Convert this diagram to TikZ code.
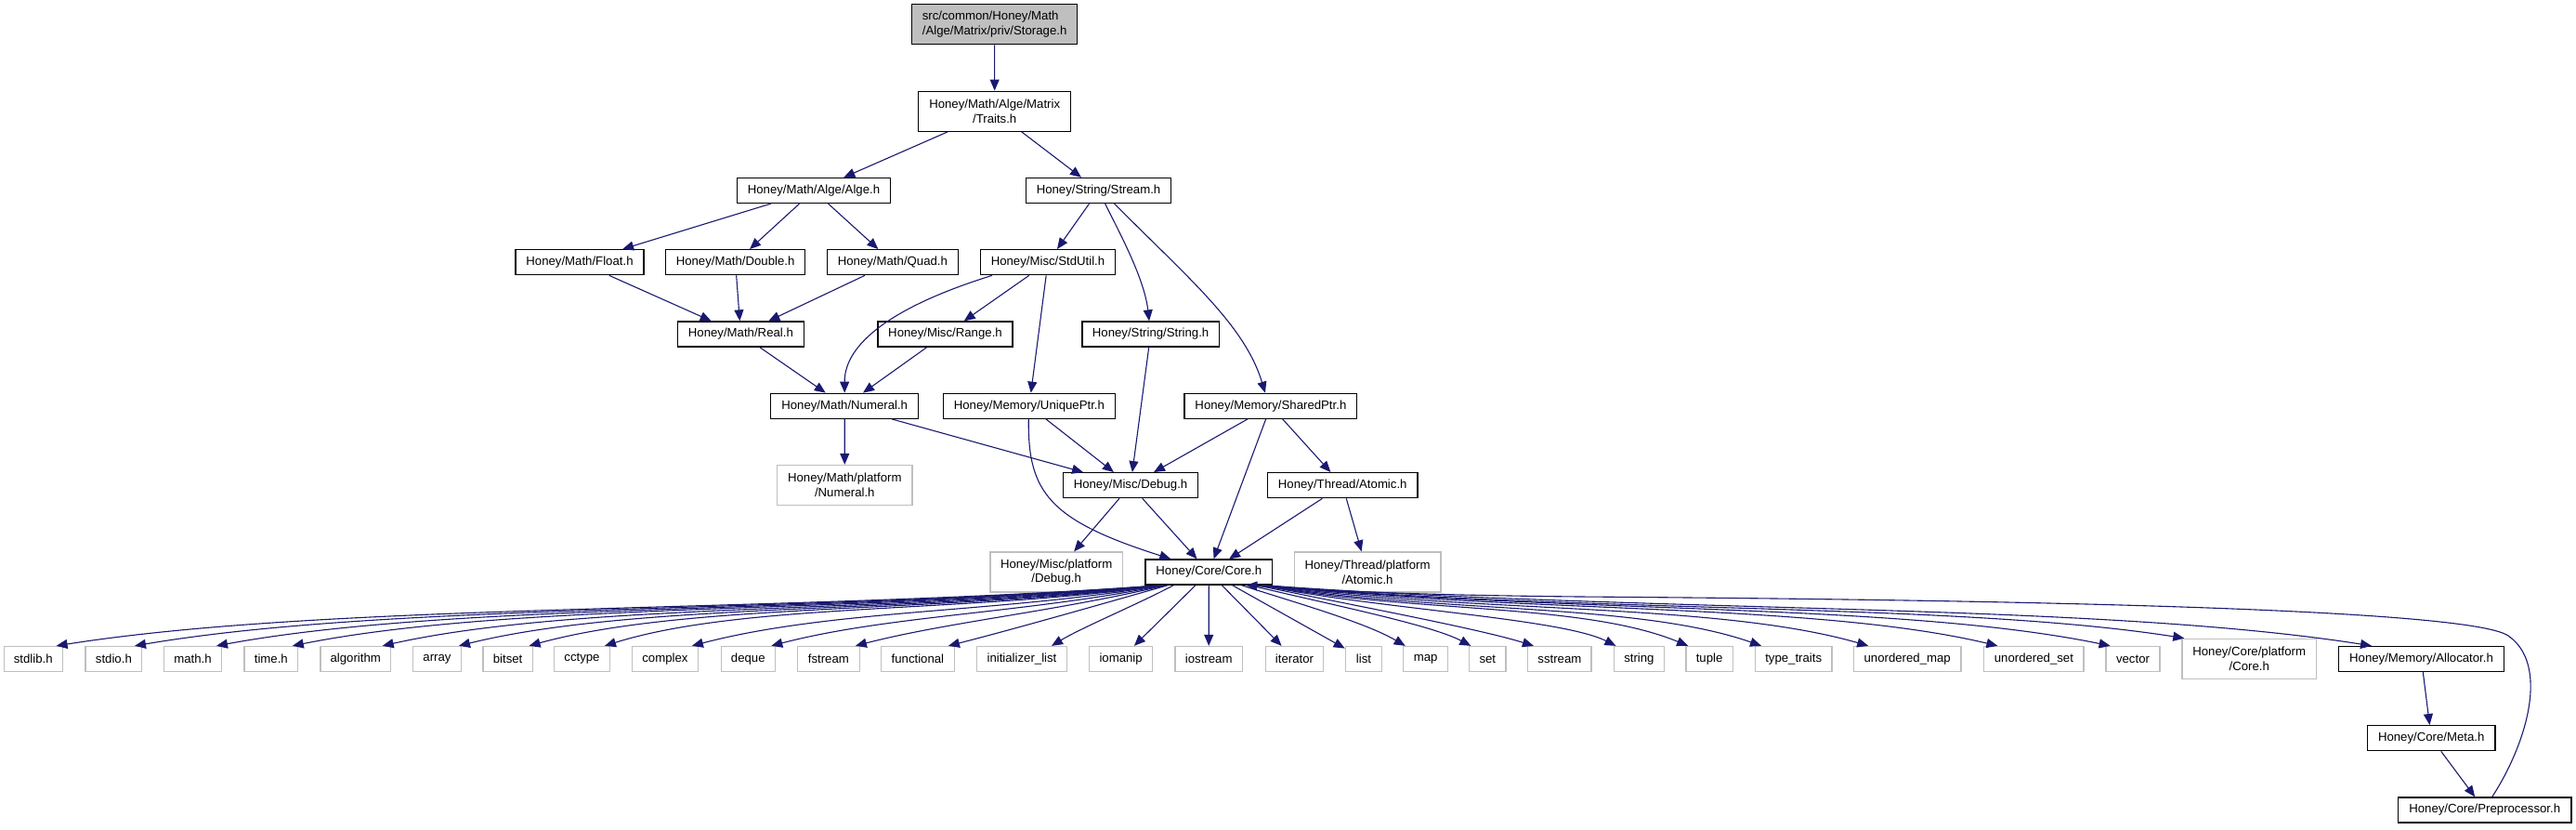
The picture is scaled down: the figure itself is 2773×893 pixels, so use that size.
\documentclass[tikz,border=0pt]{standalone}
\usepackage{fontspec}
\setmainfont{Liberation Sans}
\usetikzlibrary{arrows.meta}
\definecolor{edgeblue}{HTML}{191970}
\definecolor{extgray}{HTML}{BFBFBF}
\begin{document}
\begin{tikzpicture}[x=1pt,y=-1pt,
  every node/.style={font=\fontsize{13.2}{15.8}\selectfont},
  box/.style={draw=black, line width=1.3pt, fill=white, inner sep=0pt, minimum height=27pt, align=center},
  two/.style={minimum height=43pt},
  ext/.style={box, draw=extgray},
  root/.style={box, fill=extgray, align=left},
  dep/.style={draw=edgeblue, line width=1.1pt, -{Triangle[length=12pt,width=10pt]}}
]
\fill[white] (0,0) rectangle (2773,893);
\useasboundingbox (0,0) rectangle (2773,893);

% upper part
\node[root, two, minimum width=178pt] (storage) at (1070.6,26.3) {src/common/Honey/Math\\/Alge/Matrix/priv/Storage.h};
\node[box, two, minimum width=164pt] (traits) at (1070.7,119.7) {Honey/Math/Alge/Matrix\\/Traits.h};
\node[box, minimum width=165.4pt] (alge) at (876,205) {Honey/Math/Alge/Alge.h};
\node[box, minimum width=156pt] (stream) at (1182.5,205) {Honey/String/Stream.h};
\node[box, minimum width=137.8pt] (float) at (624,282.2) {Honey/Math/Float.h};
\node[box, minimum width=150.4pt] (double) at (791.6,282.2) {Honey/Math/Double.h};
\node[box, minimum width=141.2pt] (quad) at (960.9,282.2) {Honey/Math/Quad.h};
\node[box, minimum width=144.6pt] (stdutil) at (1128,282.2) {Honey/Misc/StdUtil.h};
\node[box, minimum width=135.5pt] (real) at (797.4,359.5) {Honey/Math/Real.h};
\node[box, minimum width=145.2pt] (range) at (1017.5,359.5) {Honey/Misc/Range.h};
\node[box, minimum width=147.5pt] (string) at (1238.6,359.5) {Honey/String/String.h};
\node[box, minimum width=159pt] (numeral) at (909.2,436.8) {Honey/Math/Numeral.h};
\node[box, minimum width=184.8pt] (unique) at (1107.9,436.8) {Honey/Memory/UniquePtr.h};
\node[box, minimum width=185.7pt] (shared) at (1367.9,436.8) {Honey/Memory/SharedPtr.h};
\node[ext, two, minimum width=145.3pt] (mnumeral) at (909.3,522) {Honey/Math/platform\\/Numeral.h};
\node[box, minimum width=145.4pt] (debug) at (1217,522.2) {Honey/Misc/Debug.h};
\node[box, minimum width=161.7pt] (atomic) at (1445.2,522.2) {Honey/Thread/Atomic.h};
\node[ext, two, minimum width=142.4pt] (mdebug) at (1137.2,615.5) {Honey/Misc/platform\\/Debug.h};
\node[box, minimum width=136.4pt] (core) at (1301.3,615.5) {Honey/Core/Core.h};
\node[ext, two, minimum width=157.7pt] (tatomic) at (1472,615.5) {Honey/Thread/platform\\/Atomic.h};

% bottom row
\node[ext, minimum width=63.1pt] (stdlibh) at (35.8,709) {stdlib.h};
\node[ext, minimum width=60.6pt] (stdioh) at (122.4,709) {stdio.h};
\node[ext, minimum width=62.4pt] (mathh) at (207.5,709) {math.h};
\node[ext, minimum width=57.5pt] (timeh) at (291.8,709) {time.h};
\node[ext, minimum width=75.7pt] (algorithm) at (382.7,709) {algorithm};
\node[ext, minimum width=51.5pt] (array) at (470.5,709) {array};
\node[ext, minimum width=53.3pt] (bitset) at (546.6,709) {bitset};
\node[ext, minimum width=59.4pt] (cctype) at (626.5,709) {cctype};
\node[ext, minimum width=70.9pt] (complex) at (715.9,709) {complex};
\node[ext, minimum width=58.1pt] (deque) at (805.3,709) {deque};
\node[ext, minimum width=66.6pt] (fstream) at (891.9,709) {fstream};
\node[ext, minimum width=78.7pt] (functional) at (987.9,709) {functional};
\node[ext, minimum width=96.9pt] (initlist) at (1100,709) {initializer\_list};
\node[ext, minimum width=67.8pt] (iomanip) at (1206.6,709) {iomanip};
\node[ext, minimum width=72.7pt] (iostream) at (1301.2,709) {iostream};
\node[ext, minimum width=62.4pt] (iterator) at (1393.5,709) {iterator};
\node[ext, minimum width=39.4pt] (list) at (1468,709) {list};
\node[ext, minimum width=47.9pt] (map) at (1534.7,709) {map};
\node[ext, minimum width=39.4pt] (set) at (1601.3,709) {set};
\node[ext, minimum width=68.4pt] (sstream) at (1678.9,709) {sstream};
\node[ext, minimum width=53.9pt] (stdstring) at (1764.4,709) {string};
\node[ext, minimum width=50.2pt] (tuple) at (1840.1,709) {tuple};
\node[ext, minimum width=82.5pt] (typetraits) at (1930.7,709) {type\_traits};
\node[ext, minimum width=115.4pt] (umap) at (2053.2,709) {unordered\_map};
\node[ext, minimum width=107.3pt] (uset) at (2189.4,709) {unordered\_set};
\node[ext, minimum width=58pt] (vector) at (2296,709) {vector};
\node[ext, two, minimum width=144.5pt] (cplat) at (2421.2,708.8) {Honey/Core/platform\\/Core.h};
\node[box, minimum width=178.3pt] (alloc) at (2606.5,709) {Honey/Memory/Allocator.h};
\node[box, minimum width=137.5pt] (meta) at (2617.2,794.2) {Honey/Core/Meta.h};
\node[box, minimum width=186.3pt] (preproc) at (2674.7,871.5) {Honey/Core/Preprocessor.h};

% straight edges
\draw[dep] (storage) -- (traits);
\draw[dep] (traits) -- (alge);
\draw[dep] (traits) -- (stream);
\draw[dep] (alge) -- (float);
\draw[dep] (alge) -- (double);
\draw[dep] (alge) -- (quad);
\draw[dep] (float) -- (real);
\draw[dep] (double) -- (real);
\draw[dep] (quad) -- (real);
\draw[dep] (real) -- (numeral);
\draw[dep] (range) -- (numeral);
\draw[dep] (stream) -- (stdutil);
\draw[dep] (stream) .. controls (1205,250) and (1232,300) .. (string);
\draw[dep] (stdutil) -- (range);
\draw[dep] (stdutil) -- (unique);
\draw[dep] ([xshift=-60pt]stdutil.south) .. controls (960,330) and (909,370) .. (numeral.north);
\draw[dep] ([xshift=17pt]stream.south) .. controls (1280,300) and (1340,350) .. ([xshift=-6pt]shared.north);
\draw[dep] (string) -- (debug);
\draw[dep] (numeral) -- (mnumeral);
\draw[dep] (numeral) -- (debug);
\draw[dep] (unique) -- (debug);
\draw[dep] ([xshift=-0.6pt]unique.south) .. controls (1106,530) and (1130,560) .. ([xshift=-41pt]core.north);
\draw[dep] (shared) -- (debug);
\draw[dep] (shared) -- (core);
\draw[dep] (shared) -- (atomic);
\draw[dep] (debug) -- (mdebug);
\draw[dep] (debug) -- (core);
\draw[dep] (atomic) -- (core);
\draw[dep] (atomic) -- (tatomic);
\draw[dep] (alloc) -- (meta);
\draw[dep] (meta) -- (preproc);

% Core to the left
\draw[dep] ([xshift=-50pt]core.south) .. controls (834.4,660) and (358.2,648) .. ([xshift=24.8pt]stdlibh.north);
\draw[dep] ([xshift=-50pt]core.south) .. controls (863.9,660) and (421.5,648) .. ([xshift=22.6pt]stdioh.north);
\draw[dep] ([xshift=-50pt]core.south) .. controls (894.7,660) and (487.5,648) .. ([xshift=25.5pt]mathh.north);
\draw[dep] ([xshift=-50pt]core.south) .. controls (923.4,660) and (549,648) .. ([xshift=23pt]timeh.north);
\draw[dep] ([xshift=-50pt]core.south) .. controls (957.4,660) and (621.8,648) .. ([xshift=29pt]algorithm.north);
\draw[dep] ([xshift=-50pt]core.south) .. controls (986,660) and (683,648) .. ([xshift=23.5pt]array.north);
\draw[dep] ([xshift=-50pt]core.south) .. controls (1012.5,660) and (740,648) .. ([xshift=23pt]bitset.north);
\draw[dep] ([xshift=-50pt]core.south) .. controls (1041,660) and (801,648) .. ([xshift=24.5pt]cctype.north);
\draw[dep] ([xshift=-50pt]core.south) .. controls (1074,660) and (896.8,655.2) .. ([xshift=29pt]complex.north);
\draw[dep] ([xshift=-48pt]core.south) .. controls (1103.6,660) and (956.3,662) .. ([xshift=25pt]deque.north);
\draw[dep] ([xshift=-46pt]core.south) .. controls (1135.5,658) and (1020,669.3) .. ([xshift=29pt]fstream.north);
\draw[dep] ([xshift=-44pt]core.south) .. controls (1185.5,650) and (1091.5,676.9) .. ([xshift=33pt]functional.north);
\draw[dep] ([xshift=-38pt]core.south) .. controls (1225,650) and (1165,675) .. ([xshift=32pt]initlist.north);
\draw[dep] (core) -- (iomanip);
\draw[dep] (core) -- (iostream);
\draw[dep] (core) -- (iterator);
\draw[dep] (core) -- (list);
\draw[dep] ([xshift=35pt]core.south) .. controls (1400,650) and (1470,670) .. ([xshift=-22pt]map.north);
\draw[dep] ([xshift=44pt]core.south) .. controls (1430,650) and (1540,672) .. ([xshift=-18pt]set.north);
\draw[dep] ([xshift=51pt]core.south) .. controls (1460,652) and (1590,676) .. ([xshift=-28pt]sstream.north);
\draw[dep] ([xshift=56pt]core.south) .. controls (1480,655) and (1680,665) .. ([xshift=-25pt]stdstring.north);
\draw[dep] ([xshift=58pt]core.south) .. controls (1520,660) and (1703,648) .. ([xshift=-23pt]tuple.north);
\draw[dep] ([xshift=58pt]core.south) .. controls (1547.6,660) and (1762,648) .. ([xshift=-34.7pt]typetraits.north);
\draw[dep] ([xshift=58pt]core.south) .. controls (1587.9,660) and (1848,648) .. ([xshift=-42pt]umap.north);
\draw[dep] ([xshift=58pt]core.south) .. controls (1636.7,660) and (1953,648) .. ([xshift=-39pt]uset.north);
\draw[dep] ([xshift=58pt]core.south) .. controls (1679,660) and (2044,648) .. ([xshift=-24.4pt]vector.north);
\draw[dep] ([xshift=58pt]core.south) .. controls (1707,660) and (2104,648) .. ([xshift=3pt]cplat.north west);
\draw[dep] ([xshift=58pt]core.south) .. controls (1777.6,660) and (2254.8,648) .. ([xshift=-53.5pt]alloc.north);

% back edge
\draw[dep] ([xshift=8pt]preproc.north) .. controls (2720,800) and (2745,715) .. (2700,684)
  .. controls (2655,653) and (2100,645) .. (1700,642)
  .. controls (1500,640) and (1400,634) .. ([xshift=40pt]core.south);
\end{tikzpicture}
\end{document}
